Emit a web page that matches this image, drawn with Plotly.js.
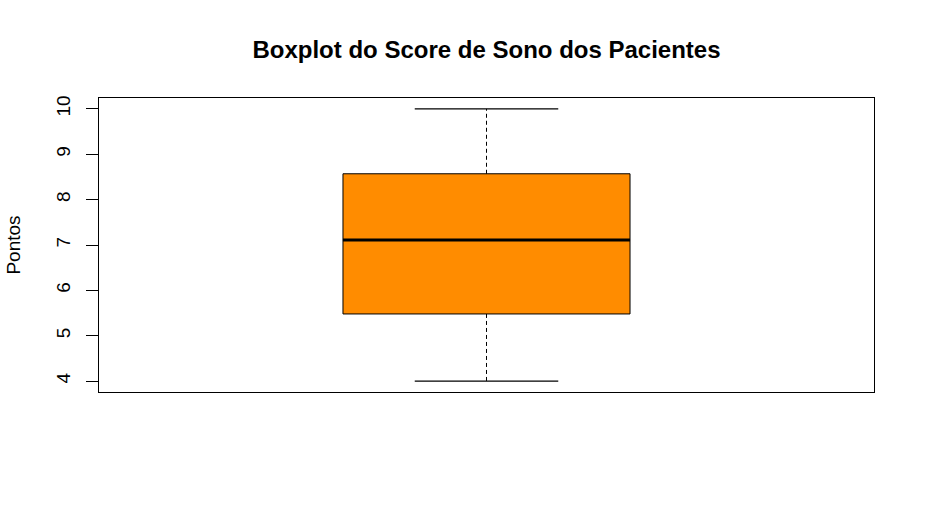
<!DOCTYPE html>
<html>
<head>
<meta charset="utf-8">
<script src="https://cdn.plot.ly/plotly-3.0.1.min.js"></script>
<style>html,body{margin:0;padding:0;background:#fff;}#chart{width:925px;height:515px;}</style>
</head>
<body>
<div id="chart"></div>
<script>
// Data
const categories = ["Score de Sono"];
const lowerWhisker = [4.0];
const q1Values = [5.48];
const medianValues = [7.11];
const q3Values = [8.57];
const upperWhisker = [10.0];
const yTickValues = [4, 5, 6, 7, 8, 9, 10];
const yTickLabels = ["4", "5", "6", "7", "8", "9", "10"];

const pos = 1;            // x position of the single box
const boxWidth = 0.4;     // in x data units
const stapleHalf = boxWidth / 4;
const medHalf = boxWidth / 2;

const traces = [
  {
    type: 'box',
    name: categories[0],
    x: [pos],
    q1: q1Values,
    median: medianValues,
    q3: q3Values,
    lowerfence: q1Values,
    upperfence: q3Values,
    width: boxWidth,
    whiskerwidth: 0,
    fillcolor: '#FF8C00',
    line: {color: '#000000', width: 1},
    boxpoints: false,
    showlegend: false,
    hoverinfo: 'skip'
  },
  {
    type: 'scatter', mode: 'lines', showlegend: false, hoverinfo: 'skip',
    x: [pos, pos, null, pos, pos],
    y: [q3Values[0], upperWhisker[0], null, q1Values[0], lowerWhisker[0]],
    line: {color: '#000000', width: 1, dash: '4px,3px'}
  },
  {
    type: 'scatter', mode: 'lines', showlegend: false, hoverinfo: 'skip',
    x: [pos - stapleHalf, pos + stapleHalf, null, pos - stapleHalf, pos + stapleHalf],
    y: [upperWhisker[0], upperWhisker[0], null, lowerWhisker[0], lowerWhisker[0]],
    line: {color: '#000000', width: 1.3}
  },
  {
    type: 'scatter', mode: 'lines', showlegend: false, hoverinfo: 'skip',
    x: [pos - medHalf, pos + medHalf],
    y: [medianValues[0], medianValues[0]],
    line: {color: '#000000', width: 3}
  }
];

const layout = {
  width: 925, height: 515,
  margin: {l: 99, r: 51, t: 98, b: 123, pad: 0},
  paper_bgcolor: '#ffffff', plot_bgcolor: '#ffffff',
  font: {family: 'Liberation Sans, Arial, sans-serif', color: '#000000', size: 16},
  title: {
    text: '<b>Boxplot do Score de Sono dos Pacientes</b>',
    font: {size: 24, family: 'Liberation Sans, Arial, sans-serif', color: '#000'},
    x: 0.5, xref: 'paper', xanchor: 'center',
    y: 1 - 50 / 515, yref: 'container', yanchor: 'middle'
  },
  showlegend: false,
  xaxis: {
    range: [0.46, 1.54],
    showgrid: false, zeroline: false,
    showticklabels: false, ticks: '',
    showline: true, mirror: true, linecolor: '#000', linewidth: 1,
    fixedrange: true
  },
  yaxis: {
    range: [3.76, 10.24],
    tickmode: 'array', tickvals: yTickValues, ticktext: yTickLabels,
    tickangle: -90,
    ticks: 'outside', ticklen: 12, tickwidth: 1, tickcolor: '#000',
    tickfont: {size: 19},
    ticklabelstandoff: 8,
    showgrid: false, zeroline: false,
    showline: true, mirror: true, linecolor: '#000', linewidth: 1,
    title: {text: 'Pontos', font: {size: 19}, standoff: 27},
    automargin: false,
    fixedrange: true
  }
};

Plotly.newPlot('chart', traces, layout, {displayModeBar: false, staticPlot: true});
</script>
</body>
</html>
